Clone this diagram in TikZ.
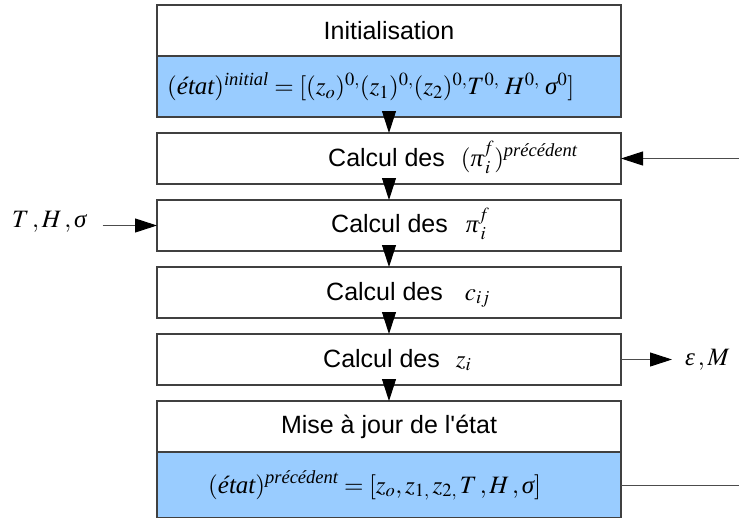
\documentclass[tikz,border=0pt]{standalone}
\usepackage{amsmath}
\usepackage{mathptmx}
\usepackage[no-math]{fontspec}
\setmainfont{Liberation Sans}[Ligatures=TeXOff]
\newfontfamily\tmsfont{Liberation Serif}
\usepackage{tikz}
\usetikzlibrary{arrows.meta,positioning}
\definecolor{etatblue}{HTML}{99CCFF}
\definecolor{boxgray}{HTML}{404040}
\newcommand{\itx}[1]{\text{\tmsfont\itshape #1}}

\begin{document}
\begin{tikzpicture}[
  x=1pt, y=1pt,
  box/.style={draw=boxgray, line width=1.3pt, fill=white, minimum width=464pt, minimum height=51pt, inner sep=0pt, outer sep=0pt, font=\fontsize{25}{30}\selectfont},
  statebox/.style={box, fill=etatblue},
  txt/.style={inner sep=0pt, anchor=base west, font=\fontsize{25}{30}\selectfont},
  line/.style={draw=black!70, line width=1pt},
  edge/.style={line, -{Triangle[length=22pt,width=14pt,color=black]}}
]
\useasboundingbox (0,0) rectangle (739,-517);
\node[box] (init) at (389,-30.5) {Initialisation};
\node[statebox, minimum height=61pt, below=0pt of init] (initstate) {};
\node[box, below=16pt of initstate] (prev) {};
\node[box, below=16pt of prev] (pif) {};
\node[box, below=16pt of pif] (cij) {};
\node[box, below=16pt of cij] (zi) {};
\node[box, below=16pt of zi] (update) {Mise à jour de l'état};
\node[statebox, minimum height=66pt, below=0pt of update] (updstate) {};
% texts inside the boxes
\node[txt] (initform) at ([shift={(10pt,-8pt)}]initstate.west) {$(\itx{état})^{\itx{initial}}=[(z_o)^{0,}(z_1)^{0,}(z_2)^{0,}T^{0,}\;H^{0,}\;\itx{σ}^0]$};
\node[txt] (prevtxt) at ([shift={(171pt,-7.5pt)}]prev.west) {Calcul des\hspace{16pt}$(\itx{π}_{\,i}^{f})^{\itx{précédent}}$};
\node[txt] (piftxt) at ([shift={(174pt,-7pt)}]pif.west) {Calcul des\hspace{18pt}$\itx{π}_{\,i}^{f}$};
\node[txt] (cijtxt) at ([shift={(169pt,-7.5pt)}]cij.west) {Calcul des\hspace{22pt}$c_{ij}$};
\node[txt] (zitxt) at ([shift={(166pt,-7.5pt)}]zi.west) {Calcul des\hspace{16pt}$z_i$};
\node[txt] (updform) at ([shift={(51pt,-8pt)}]updstate.west) {$(\itx{état})^{\itx{précédent}}=[z_o,z_{1,}\,z_{2,}\,T\,,H\,,\itx{σ}]$};
% inputs and outputs
\node[txt] (inputs) at (12,-227) {$T\,,H\,,\itx{σ}$};
\node[txt] (outputs) at (685,-365) {$\itx{ε}\,,M$};
\coordinate (loopout) at ([xshift=124pt]updstate.east);
\coordinate (loopin) at ([xshift=124pt]prev.east);
\foreach \a/\b in {initstate/prev, prev/pif, pif/cij, cij/zi, zi/update}
  \draw[edge] (\a) -- (\b);
\draw[edge] ([xshift=16pt]pif.west -| inputs.east) -- (pif.west);
\draw[edge] (zi.east) -- ([xshift=-13pt]zi.east -| outputs.west);
\draw[edge] (loopin) -- (prev);
\draw[line] (updstate) -- (loopout);
\end{tikzpicture}
\end{document}
